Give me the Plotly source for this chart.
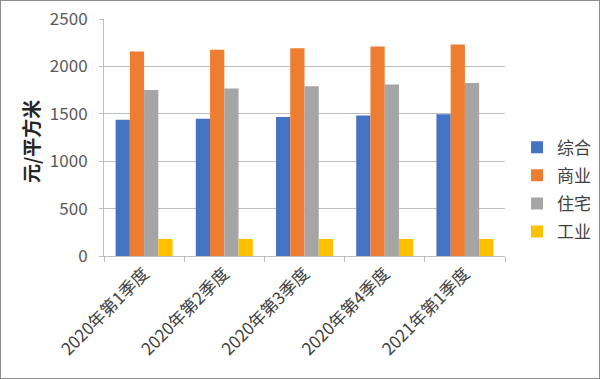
import plotly.graph_objects as go

categories = ["2020年第1季度", "2020年第2季度", "2020年第3季度", "2020年第4季度", "2021年第1季度"]
zonghe = [1436, 1447, 1465, 1481, 1496]
shangye = [2157, 2175, 2192, 2210, 2231]
zhuzhai = [1750, 1767, 1790, 1809, 1825]
gongye = [180, 180, 180, 180, 180]

series_names = ["综合", "商业", "住宅", "工业"]
series_values = [zonghe, shangye, zhuzhai, gongye]
colors = ["#4472C4", "#ED7D31", "#A5A5A5", "#FFC000"]
y_ticks = [0, 500, 1000, 1500, 2000, 2500]

FONT = "Noto Sans CJK SC"
W, H = 600, 379
ML, MR, MT, MB = 104, 95, 19, 123

fig = go.Figure()
for name, vals, col in zip(series_names, series_values, colors):
    fig.add_trace(go.Bar(x=categories, y=vals, name=name, marker_color=col,
                         marker_line_width=0, legendgroup=name))

pw = W - ML - MR
ph = H - MT - MB

fig.add_annotation(text="<b>元/平方米</b>", xref="paper", yref="paper",
                   x=(30 - ML) / pw, y=(H - MB - 142) / ph, showarrow=False,
                   textangle=-90, xanchor="center", yanchor="middle",
                   font=dict(family=FONT, size=19, color="#262626"))

fig.update_layout(
    width=W, height=H,
    margin=dict(l=ML, r=MR, t=MT, b=MB, autoexpand=False),
    paper_bgcolor="white", plot_bgcolor="white",
    font=dict(family=FONT, color="#595959", size=15),
    barmode="group", bargap=0.29, bargroupgap=0,
    showlegend=True,
    legend=dict(x=1.03, xanchor="left", y=0.28, yanchor="middle",
                font=dict(size=17, color="#404040"), traceorder="grouped",
                tracegroupgap=3, itemwidth=30),
    xaxis=dict(tickangle=-45, tickfont=dict(size=17, color="#404040"),
               showline=True, linecolor="#BFBFBF", linewidth=1,
               ticks="outside", tickson="boundaries", ticklen=5, tickcolor="#BFBFBF",
               showgrid=False, automargin=False),
    yaxis=dict(range=[0, 2500], tickvals=y_ticks, tickfont=dict(size=17, color="#595959"),
               showgrid=True, gridcolor="#BFBFBF", gridwidth=1,
               showline=True, linecolor="#BFBFBF", linewidth=1,
               ticks="outside", ticklen=4, tickcolor="#BFBFBF",
               ticklabelstandoff=8,
               zeroline=False, automargin=False),
)

post = (
    "document.body.style.margin='0';"
    "document.body.style.overflow='hidden';"
    "var o=document.createElement('div');"
    "o.style.cssText='position:absolute;left:0;top:0;width:600px;height:379px;"
    "box-sizing:border-box;border:1px solid #8c8c8c;pointer-events:none;z-index:1000';"
    "document.body.appendChild(o);"
)
fig.write_html("out.html", config={"displayModeBar": False}, post_script=post)
